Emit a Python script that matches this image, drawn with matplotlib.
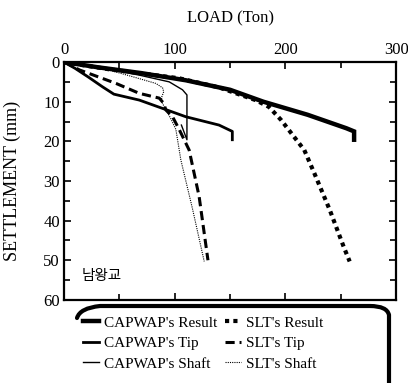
"""Load-settlement curves, CAPWAP vs static load test (남왕교)."""

import matplotlib

matplotlib.use("Agg")

import matplotlib.pyplot as plt
from matplotlib.patches import PathPatch
from matplotlib.path import Path

plt.rcParams["font.family"] = ["Liberation Serif", "DejaVu Serif"]

# load (ton) / settlement (mm)
capwap_result_load = [0, 30, 70, 110, 150, 180, 220, 255, 262, 262]
capwap_result_set = [0, 1.3, 2.8, 4.6, 7.0, 10.0, 13.3, 16.7, 17.5, 19.6]

capwap_tip_load = [0, 10, 22, 35, 45, 68, 110, 140, 152, 152]
capwap_tip_set = [0, 1.6, 3.8, 6.3, 8.1, 9.6, 13.8, 15.9, 17.5, 19.6]

capwap_shaft_load = [0, 30, 68, 95, 107, 111, 111, 106]
capwap_shaft_set = [0, 1.3, 3.3, 5.0, 7.0, 8.3, 19.6, 15.9]

slt_result_load = [0, 15, 40, 68, 104, 140, 173, 185, 196, 217, 226, 240, 253, 258]
slt_result_set = [0, 0.7, 1.8, 2.8, 4.1, 6.4, 9.6, 11.3, 14.6, 22.2, 28.0, 37.3, 46.9, 50.3]

slt_tip_load = [0, 14, 47, 68, 86, 90, 92, 98, 104, 113, 122, 130]
slt_tip_set = [0, 2.0, 5.4, 7.9, 9.1, 10.4, 12.1, 13.8, 17.0, 22.2, 33.9, 50.0]

slt_shaft_load = [0, 30, 62, 83, 89, 90, 88, 89, 93, 97, 101, 105.5, 116, 126.6]
slt_shaft_set = [0, 1.2, 3.7, 5.4, 6.5, 7.5, 9.0, 10.5, 12.5, 14.6, 17.0, 24.7, 37.0, 50.3]

fig = plt.figure(figsize=(4.08, 3.83), dpi=100)
ax = fig.add_axes([0.157, 0.217, 0.814, 0.621])

h_cr, = ax.plot(capwap_result_load, capwap_result_set, color="black", lw=3.2,
                solid_joinstyle="miter", label="CAPWAP's Result")
h_ct, = ax.plot(capwap_tip_load, capwap_tip_set, color="black", lw=2.0,
                label="CAPWAP's Tip")
h_cs, = ax.plot(capwap_shaft_load, capwap_shaft_set, color="black", lw=1.0,
                label="CAPWAP's Shaft")
h_sr, = ax.plot(slt_result_load, slt_result_set, color="black", lw=3.0,
                linestyle=(0, (1, 1)), dash_capstyle="butt", label="SLT's Result")
h_st, = ax.plot(slt_tip_load, slt_tip_set, color="black", lw=2.2,
                linestyle=(0, (3, 1.6)), label="SLT's Tip")
h_ss, = ax.plot(slt_shaft_load, slt_shaft_set, color="black", lw=0.8,
                linestyle=(0, (1, 1)), label="SLT's Shaft")

ax.set_xlim(0, 300)
ax.set_ylim(60, 0)
ax.set_xticks([0, 100, 200, 300])
ax.set_xticks([50, 150, 250], minor=True)
ax.set_yticks(range(0, 61, 10))
ax.set_yticks(range(5, 60, 10), minor=True)
ax.xaxis.tick_top()
ax.xaxis.set_label_position("top")
ax.tick_params(which="both", direction="in", top=True, bottom=True, left=True, right=True,
               labelsize=12, width=1.2, pad=3)
ax.tick_params(which="major", length=5)
ax.tick_params(which="minor", length=4)
for s in ax.spines.values():
    s.set_linewidth(1.6)
ax.set_xlabel("LOAD (Ton)", fontsize=12, labelpad=14)
ax.set_ylabel("SETTLEMENT (mm)", fontsize=13, labelpad=16)

ax.text(16, 54, "남왕교", fontsize=10.5, family=["Noto Sans CJK KR", "DejaVu Sans"],
        va="center", ha="left")

# legend below the plot, with a bracket-shaped frame
handles = [h_cr, h_ct, h_cs, h_sr, h_st, h_ss]
fig.legend(handles, [h.get_label() for h in handles],
           ncol=2, frameon=False, fontsize=11, handlelength=1.05, handletextpad=0.3,
           columnspacing=0.55, labelspacing=0.45, borderpad=0, borderaxespad=0,
           loc="upper left", bbox_to_anchor=(83 / 408, 1 - 316 / 383))

W, H = 408, 383


def fc(x, y):
    return (x / W, 1 - y / H)


verts = [fc(77, 318), fc(80, 308), fc(100, 306), fc(370, 306),
         fc(387, 306), fc(389, 315), fc(389, 330), fc(389, 383)]
codes = [Path.MOVETO, Path.CURVE3, Path.CURVE3, Path.LINETO,
         Path.CURVE3, Path.CURVE3, Path.LINETO, Path.LINETO]
fig.add_artist(PathPatch(Path(verts, codes), transform=fig.transFigure,
                         fill=False, lw=3.0, color="black", capstyle="round"))

fig.savefig("out.png", dpi=100)
